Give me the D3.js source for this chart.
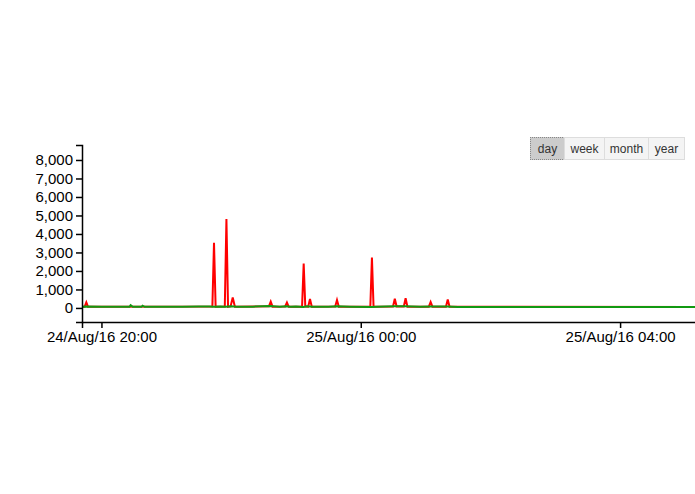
<!DOCTYPE html>
<html>
<head>
<meta charset="utf-8">
<script src="https://cdn.jsdelivr.net/npm/d3@7"></script>
<style>
  html, body { margin: 0; padding: 0; background: #fff; overflow: hidden; }
  #wrap { position: relative; width: 695px; height: 494px; }
  svg { position: absolute; left: 0; top: 0; }
  .btns { position: absolute; left: 531px; top: 137px; display: flex; }
  .btns button {
    font: 12px "Liberation Sans", Arial, sans-serif; color: #333;
    background: #f4f4f4; border: 1px solid #ddd; margin: 0 0 0 -1px;
    height: 23px; padding: 0; cursor: pointer;
  }
  .btns button.active { background: #ccc; border: 1px dotted #888; }
  .axis text { font: 15px "Liberation Sans", Arial, sans-serif; fill: #000; }
  .axis path, .axis line { stroke: #000; stroke-width: 1.5px; }
</style>
</head>
<body>
<div id="wrap">
  <svg id="chart" width="695" height="494"></svg>
  <div class="btns">
    <button class="active" style="width:35px">day</button>
    <button style="width:41px">week</button>
    <button style="width:45px">month</button>
    <button style="width:37px">year</button>
  </div>
</div>
<script>
const ranges = ['day', 'week', 'month', 'year'];
const xDomain = ['2016-08-24 19:42', '2016-08-25 05:20'];
const yTicks = [0, 1000, 2000, 3000, 4000, 5000, 6000, 7000, 8000];

// average series (green)
const avgTimes = [
  '2016-08-24 19:42', '2016-08-24 19:46', '2016-08-24 20:00', '2016-08-24 20:15',
  '2016-08-24 20:26', '2016-08-24 20:27', '2016-08-24 20:29', '2016-08-24 20:37',
  '2016-08-24 20:38', '2016-08-24 20:40', '2016-08-24 21:00', '2016-08-24 21:15',
  '2016-08-24 21:30', '2016-08-24 21:40', '2016-08-24 21:44', '2016-08-24 21:50',
  '2016-08-24 21:55', '2016-08-24 22:00', '2016-08-24 22:05', '2016-08-24 22:20',
  '2016-08-24 22:36', '2016-08-24 22:45', '2016-08-24 22:51', '2016-08-24 22:55',
  '2016-08-24 23:00', '2016-08-24 23:07', '2016-08-24 23:10', '2016-08-24 23:15',
  '2016-08-24 23:30', '2016-08-24 23:38', '2016-08-24 23:50', '2016-08-25 00:10',
  '2016-08-25 00:15', '2016-08-25 00:31', '2016-08-25 00:41', '2016-08-25 00:55',
  '2016-08-25 01:05', '2016-08-25 01:20', '2016-08-25 01:30', '2016-08-25 02:00',
  '2016-08-25 03:00', '2016-08-25 04:00', '2016-08-25 05:00', '2016-08-25 05:20'
];
const avgValues = [
  70, 80, 60, 60,
  60, 150, 60, 60,
  120, 60, 60, 70,
  80, 80, 70, 80,
  60, 90, 70, 70,
  100, 70, 90, 60,
  80, 50, 90, 60,
  60, 90, 70, 50,
  60, 90, 90, 60,
  80, 80, 50, 50,
  45, 45, 45, 45
];

// peak series (red)
const peakTimes = [
  '2016-08-24 19:42', '2016-08-24 19:44:30', '2016-08-24 19:46', '2016-08-24 19:47:30',
  '2016-08-24 21:42:40', '2016-08-24 21:44:10', '2016-08-24 21:45:40',
  '2016-08-24 21:54:10', '2016-08-24 21:55:40', '2016-08-24 21:57:10',
  '2016-08-24 21:59:30', '2016-08-24 22:01:30', '2016-08-24 22:03:30',
  '2016-08-24 22:35:00', '2016-08-24 22:36:40', '2016-08-24 22:38:20',
  '2016-08-24 22:50:00', '2016-08-24 22:51:40', '2016-08-24 22:53:20',
  '2016-08-24 23:05:40', '2016-08-24 23:07:10', '2016-08-24 23:08:40',
  '2016-08-24 23:11:20', '2016-08-24 23:13:00', '2016-08-24 23:14:40',
  '2016-08-24 23:36:20', '2016-08-24 23:38:00', '2016-08-24 23:39:40',
  '2016-08-25 00:08:50', '2016-08-25 00:10:20', '2016-08-25 00:11:50',
  '2016-08-25 00:29:50', '2016-08-25 00:31:30', '2016-08-25 00:33:10',
  '2016-08-25 00:39:50', '2016-08-25 00:41:30', '2016-08-25 00:43:10',
  '2016-08-25 01:03:00', '2016-08-25 01:04:40', '2016-08-25 01:06:20',
  '2016-08-25 01:18:50', '2016-08-25 01:20:30', '2016-08-25 01:22:10',
  '2016-08-25 05:20'
];
const peakValues = [
  70, 70, 300, 70,
  80, 3530, 70,
  80, 4810, 60,
  80, 560, 70,
  90, 340, 70,
  80, 290, 60,
  70, 2395, 80,
  70, 490, 60,
  80, 430, 70,
  60, 2720, 60,
  80, 500, 80,
  80, 520, 70,
  70, 320, 70,
  70, 450, 70,
  45
];

const parse = d3.timeParse('%Y-%m-%d %H:%M');
const parseS = d3.timeParse('%Y-%m-%d %H:%M:%S');
const p = s => parseS(s) || parse(s);

const avgData = avgTimes.map((t, i) => ({ t: p(t), v: avgValues[i] }));
const peakData = peakTimes.map((t, i) => ({ t: p(t), v: peakValues[i] }));

const margin = { left: 82, top: 145 };
const plotH = 177;
const pxPerHour = 64.83;
const [x0, x1] = xDomain.map(p);
const plotW = (x1 - x0) / 3600000 * pxPerHour;

const svg = d3.select('#chart');

const x = d3.scaleTime()
  .domain([x0, x1])
  .range([0, plotW]);

const y = d3.scaleLinear()
  .domain([-760, 8810])
  .range([plotH, 0]);

const g = svg.append('g')
  .attr('transform', `translate(${margin.left},${margin.top})`);

const line = d3.line()
  .x(d => x(d.t))
  .y(d => y(d.v));

g.append('path')
  .datum(peakData)
  .attr('fill', 'none')
  .attr('stroke', '#f00')
  .attr('stroke-width', 2)
  .attr('d', line);

g.append('path')
  .datum(avgData)
  .attr('fill', 'none')
  .attr('stroke', '#119911')
  .attr('stroke-width', 2)
  .attr('d', line);

g.append('g')
  .attr('class', 'axis')
  .attr('transform', `translate(0,${plotH})`)
  .call(d3.axisBottom(x)
    .ticks(d3.timeHour.every(4))
    .tickFormat(d3.timeFormat('%d/%b/%y %H:%M')));

g.append('g')
  .attr('class', 'axis')
  .call(d3.axisLeft(y)
    .tickValues(yTicks)
    .tickFormat(d3.format(',')));
</script>
</body>
</html>
